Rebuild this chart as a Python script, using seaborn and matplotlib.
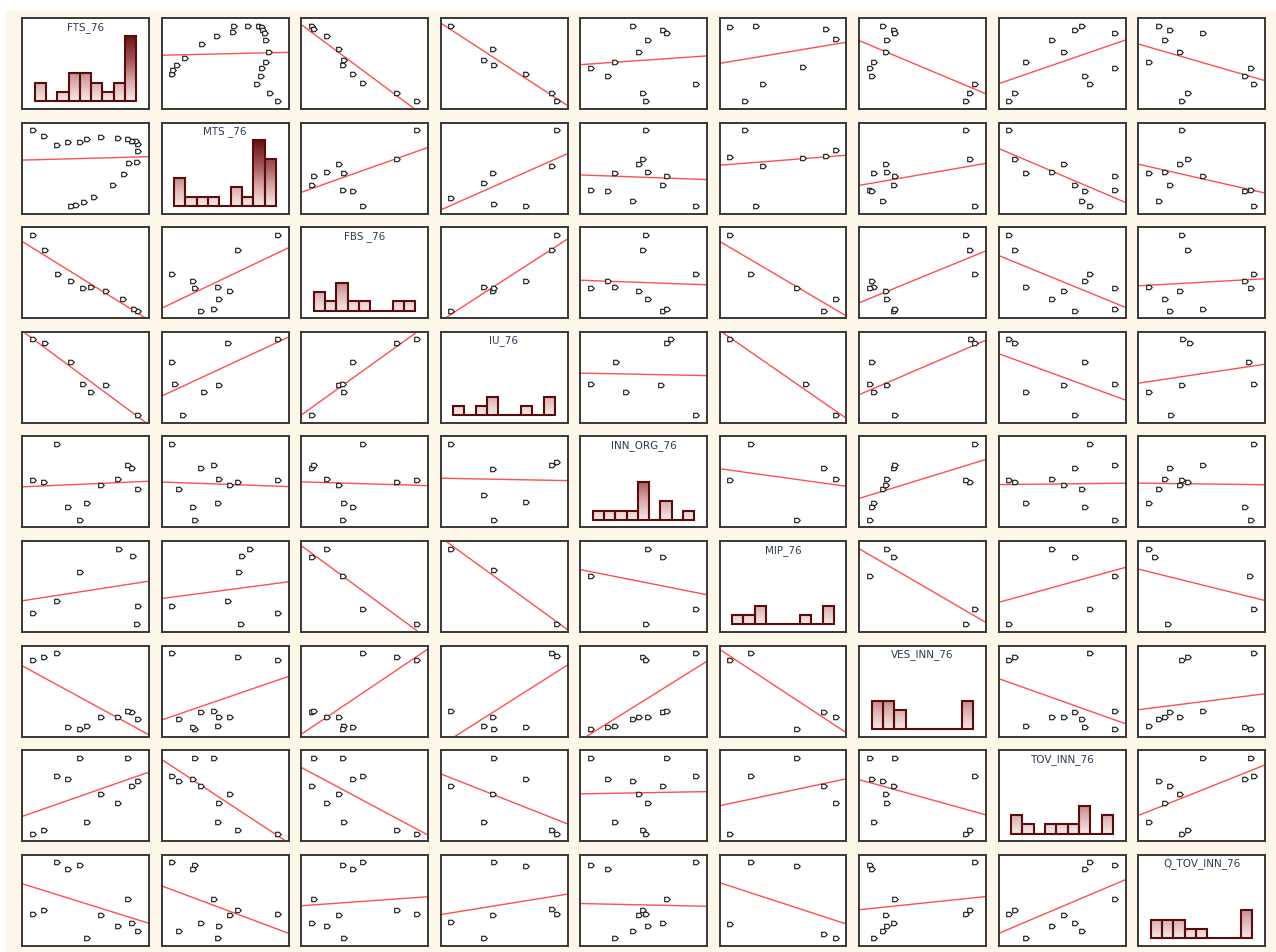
import numpy as np
import pandas as pd
import seaborn as sns
import matplotlib
matplotlib.use('Agg')
import matplotlib.pyplot as plt
from matplotlib.path import Path
from matplotlib.patches import Rectangle
from matplotlib.colors import LinearSegmentedColormap

nan = np.nan

# variable names, as printed on the diagonal
var_names = ['FTS_76', 'MTS _76', 'FBS _76', 'IU_76', 'INN_ORG_76',
             'MIP_76', 'VES_INN_76', 'TOV_INN_76', 'Q_TOV_INN_76']

# 21 cases, missing values left as nan (pairwise deletion per panel)
fts = [40, 44, 50, 58, 73, 82, 86, 92, 93, 93, 91, 88, 85, 77, 64, 53, 47, 38, 29, 19, 10]
mts = [8, 9, 12, 18, 31, 43, 55, 56, 67, 75, 78, 78.4, 80.3, 81.1, 82.8, 81.0, 77.4, 77.1, 74, 83.9, 90]
fbs = [nan, nan, nan, nan, nan, nan, nan, nan, nan, nan, nan,
       9, 11, 21, 30, 34, 33, 41, 48, 74, 90]
iu = [nan, nan, nan, nan, nan, nan, nan, nan, nan, nan, nan,
      8, nan, nan, 40, 33, 41, 65, nan, 85, 89]
inn_org = [nan, nan, nan, nan, nan, nan, nan, nan, nan,
           44, nan, 66, 69, 55, 48, 30, 12, 25, 91, 51, 53]
mip = [nan, nan, nan, nan, nan, nan, nan, 29, nan, nan,
       9, 84, nan, 92, nan, nan, 66, nan, 35, nan, 21]
ves_inn = [nan, nan, nan, nan, nan, nan, nan, nan, nan,
           21, nan, 29, 30, 24, 23, 14, 11, 13, 90, 86, 83]
tov_inn = [nan, nan, nan, nan, nan, nan, nan, nan, nan,
           64, nan, 59, 88, 42, 51, 23, 88, 66, 70, 15, 11]
q_tov_inn = [nan, nan, nan, nan, nan, nan, nan, nan, nan,
             18, nan, 27, 53, 23, 35, 10, 90, 86, 93, 41, 36]

df = pd.DataFrame(dict(zip(var_names, [fts, mts, fbs, iu, inn_org, mip,
                                       ves_inn, tov_inn, q_tov_inn])))

# little "flag" marker, pointing right
flag = Path([(-1, -0.8), (0.25, -0.8), (1, 0), (0.25, 0.8), (-1, 0.8), (-1, -0.8)],
            [Path.MOVETO, Path.LINETO, Path.LINETO, Path.LINETO, Path.LINETO, Path.CLOSEPOLY])

# bar fill darkens with height (same scale in every histogram)
bar_cmap = LinearSegmentedColormap.from_list(
    'bars', [(0, '#f7e9e9'), (0.3, '#d8a9a9'), (0.6, '#a65a5a'), (1, '#681010')])
grad = np.linspace(0, 1, 256).reshape(-1, 1)

W, H = 1276, 952
fig = plt.figure(figsize=(W / 100, H / 100), dpi=100, facecolor='white')
fig.add_artist(Rectangle((6 / W, 0), 1, 1 - 10 / H, transform=fig.transFigure,
                         facecolor='#fdf7ea', edgecolor='none', zorder=0))


def padded(vals, frac):
    lo, hi = np.min(vals), np.max(vals)
    r = hi - lo if hi > lo else 1.0
    return lo - frac * r, hi + frac * r


def style_panel(ax):
    ax.set_facecolor('white')
    ax.set_xticks([])
    ax.set_yticks([])
    ax.set_xlabel('')
    ax.set_ylabel('')
    for s in ax.spines.values():
        s.set_color('#383838')
        s.set_linewidth(1.4)


n = len(var_names)
for i in range(n):
    for j in range(n):
        left = (22 + 139.5 * j) / W
        bottom = 1 - (18 + 104.6 * i + 91) / H
        ax = fig.add_axes([left, bottom, 127 / W, 91 / H])
        vi, vj = var_names[i], var_names[j]

        if i == j:
            vals = df[vi].dropna()
            sns.histplot(x=vals, bins=9, ax=ax, stat='count', color='#c99',
                         edgecolor='#5a0c0c', linewidth=1.5, alpha=1)
            for p in list(ax.patches):
                x0, w, h = p.get_x(), p.get_width(), p.get_height()
                p.set_facecolor('none')
                if h > 0:
                    im = ax.imshow(grad, extent=(x0, x0 + w, 0, 7), origin='lower',
                                   cmap=bar_cmap, aspect='auto', zorder=p.get_zorder() - 0.1)
                    im.set_clip_path(p)
            ax.set_xlim(*padded(vals, 0.125))
            ax.set_ylim(-0.8, 8.9)
            ax.text(0.5, 0.9, vi, transform=ax.transAxes, ha='center', va='center',
                    fontsize=7.5, color='#2e3a55')
        else:
            sub = df[[vj, vi]].dropna()
            xl = padded(sub[vj], 0.1)
            yl = padded(sub[vi], 0.1)
            sns.scatterplot(data=sub, x=vj, y=vi, ax=ax, marker=flag, s=16,
                            color='white', edgecolor='#151515', linewidth=0.8,
                            legend=False, zorder=3)
            ax.set_xlim(*xl)
            ax.set_ylim(*yl)
            sns.regplot(data=sub, x=vj, y=vi, ax=ax, scatter=False, ci=None,
                        truncate=False, color='#ff3030',
                        line_kws=dict(lw=1.0, alpha=0.85, zorder=2))
            ax.set_xlim(*xl)
            ax.set_ylim(*yl)
        style_panel(ax)

fig.savefig('out.png', dpi=100, facecolor=fig.get_facecolor())
